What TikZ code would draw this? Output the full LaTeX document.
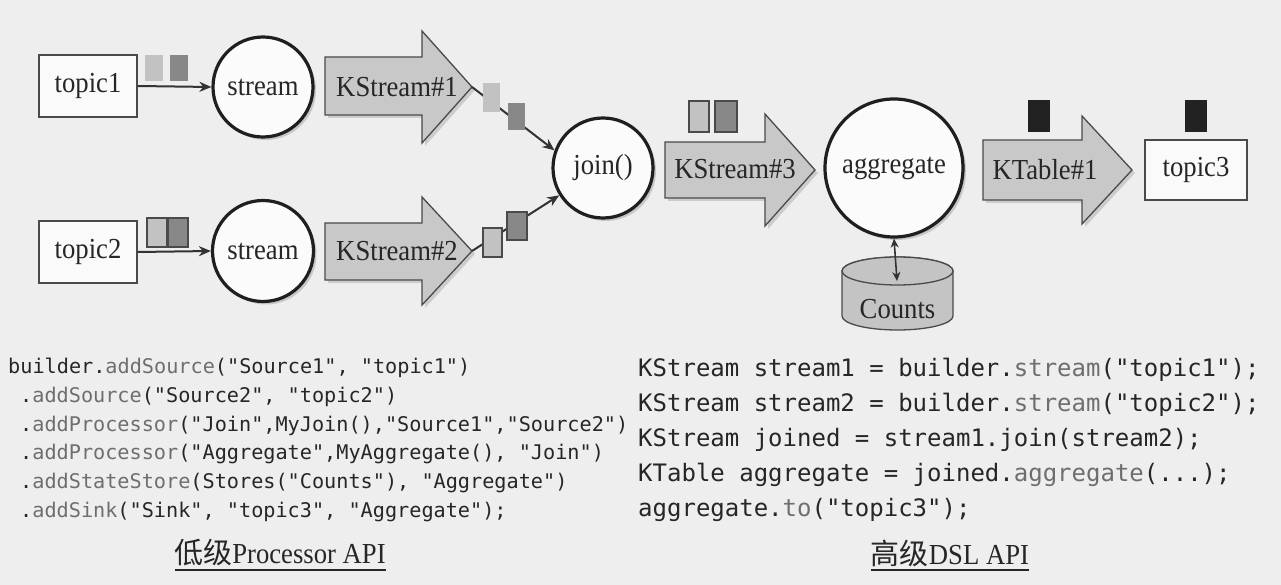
\documentclass[tikz,border=0pt]{standalone}
\usepackage{fontspec}
\setmainfont{Liberation Serif}[FakeStretch=0.92]
\newfontfamily\cjk{Noto Sans CJK SC}
\newfontfamily\codefont{DejaVu Sans Mono}
\usetikzlibrary{arrows.meta,shapes.geometric,shadows}
\definecolor{bg}{HTML}{EEEEEE}
\definecolor{txt}{HTML}{262626}
\definecolor{edge}{HTML}{4A4A4A}
\definecolor{arrowfill}{HTML}{C8C8C8}
\definecolor{cylfill}{HTML}{C4C4C4}
\definecolor{lightsq}{HTML}{C2C2C2}
\definecolor{darksq}{HTML}{888888}
\definecolor{blacksq}{HTML}{222222}
\definecolor{meth}{HTML}{6E6E6E}
\newcommand\mth[1]{\textcolor{meth}{#1}}
\begin{document}
\begin{tikzpicture}[x=1pt,y=-1pt,
  lbl/.style={text=txt,font=\fontsize{29}{33}\selectfont,inner sep=0pt},
  topicbox/.style={lbl,draw=edge,line width=1.4pt,fill=white!70!bg,minimum width=98pt,minimum height=62pt},
  proc/.style={lbl,circle,draw=black!88,line width=3.2pt,fill=white!75!bg,
    drop shadow={shadow xshift=3pt,shadow yshift=-3pt,opacity=0.35}},
  bigarrow/.style={draw=edge,line width=1.3pt,fill=arrowfill,line join=miter,
    drop shadow={shadow xshift=3pt,shadow yshift=-3pt,opacity=0.3}},
  flow/.style={draw=black!80,line width=2pt,-{Stealth[length=12pt,width=10pt]}},
  dflow/.style={draw=black!80,line width=1.6pt,{Stealth[length=9pt,width=8pt]}-{Stealth[length=9pt,width=8pt]}},
  sqsoft/.style={inner sep=0pt,draw=none},
  sqline/.style={inner sep=0pt,draw=edge,line width=1.2pt},
  cyl/.style={draw=edge,fill=cylfill,line width=1.3pt},
  codeL/.style={anchor=west,inner sep=0pt,text=txt,font=\codefont\fontsize{20.2}{24}\selectfont},
  codeR/.style={anchor=west,inner sep=0pt,text=txt,font=\codefont\fontsize{24}{28}\selectfont},
  caption/.style={inner sep=0pt,text=txt,font=\fontsize{29}{33}\selectfont}
]
\useasboundingbox[fill=bg] (0,0) rectangle (1281,585);

% ---------- sources ----------
\node[topicbox] (topic1) at (88,86) {topic1};
\node[topicbox] (topic2) at (88,252) {topic2};

% ---------- stream processors ----------
\node[proc,minimum size=100pt] (stream1) at (263,87) {stream};
\node[proc,minimum size=101pt] (stream2) at (263,251) {stream};

\draw[flow] (topic1.east) -- (stream1.west);
\draw[flow] (topic2.east) -- (stream2.west);

\node[sqsoft,fill=lightsq,minimum width=18pt,minimum height=26pt] (m1a) at (154,68) {};
\node[sqsoft,fill=darksq,minimum width=18pt,minimum height=26pt] (m1b) at (179,68) {};
\node[sqline,fill=lightsq,minimum width=20pt,minimum height=29pt] (m2a) at (157,232.5) {};
\node[sqline,fill=darksq,minimum width=20pt,minimum height=29pt] (m2b) at (178,232.5) {};

% ---------- KStream#1 / #2 ----------
\draw[bigarrow] (325,57) -- (422,57) -- (422,31) -- (472,87) -- (422,143) -- (422,115) -- (325,115) -- cycle;
\node[lbl] (ks1) at (397,87) {KStream\#1};
\coordinate (k1tip) at (472,87);

\draw[bigarrow] (325,223) -- (422,223) -- (422,197) -- (472,251) -- (422,305) -- (422,280) -- (325,280) -- cycle;
\node[lbl] (ks2) at (397,251) {KStream\#2};
\coordinate (k2tip) at (472,251);

% ---------- join ----------
\node[proc,minimum size=100pt] (join) at (603,168) {join()};
\draw[flow] (k1tip) -- (join.160);
\draw[flow] (k2tip) -- (join.212);

\node[sqsoft,fill=lightsq,minimum width=17pt,minimum height=29pt] (m3a) at (491.5,97.5) {};
\node[sqsoft,fill=darksq,minimum width=17pt,minimum height=27pt] (m3b) at (516.5,116.5) {};
\node[sqline,fill=lightsq,minimum width=19pt,minimum height=29pt] (m4a) at (492.5,242.5) {};
\node[sqline,fill=darksq,minimum width=20pt,minimum height=28pt] (m4b) at (517,226) {};

% ---------- KStream#3 ----------
\draw[bigarrow] (665,142) -- (765,142) -- (765,114) -- (815,170) -- (765,226) -- (765,198) -- (665,198) -- cycle;
\node[lbl] (ks3) at (735,169) {KStream\#3};
\node[sqline,fill=lightsq,minimum width=20pt,minimum height=31pt] (m5a) at (699,116.5) {};
\node[sqline,fill=darksq,minimum width=22pt,minimum height=31pt] (m5b) at (726,116.5) {};

% ---------- aggregate ----------
\node[proc,minimum size=138pt] (agg) at (894,168) {aggregate};

% ---------- Counts store (cylinder) ----------
\path[cyl] (842,271) -- (842,316)
  arc[start angle=180,end angle=360,x radius=55.5pt,y radius=14pt]
  -- (953,271)
  arc[start angle=0,end angle=180,x radius=55.5pt,y radius=14pt] -- cycle;
\path[cyl] (897.5,271) ellipse [x radius=55.5pt,y radius=14pt];
\node[lbl] (counts) at (897.5,309) {Counts};
\coordinate (cnttop) at (897,281);
\draw[dflow] (agg.south) -- (cnttop);

% ---------- KTable#1 ----------
\draw[bigarrow] (983,140) -- (1082,140) -- (1082,116) -- (1132,170) -- (1082,224) -- (1082,200) -- (983,200) -- cycle;
\node[lbl] (kt1) at (1045,170) {KTable\#1};
\node[inner sep=0pt,fill=blacksq,minimum width=22pt,minimum height=32pt] (m6) at (1039,116) {};

% ---------- topic3 ----------
\node[topicbox,minimum width=102pt,minimum height=60pt] (topic3) at (1196,170) {topic3};
\node[inner sep=0pt,fill=blacksq,minimum width=22pt,minimum height=32pt] (m7) at (1196,116) {};

% ---------- low level code ----------
\node[codeL] (c1) at (8,368) {builder.\mth{addSource}("Source1", "topic1")};
\node[codeL] (c2) at (20,397) {.\mth{addSource}("Source2", "topic2")};
\node[codeL] (c3) at (20,426) {.\mth{addProcessor}("Join",MyJoin(),"Source1","Source2")};
\node[codeL] (c4) at (20,454) {.\mth{addProcessor}("Aggregate",MyAggregate(), "Join")};
\node[codeL] (c5) at (20,483) {.\mth{addStateStore}(Stores("Counts"), "Aggregate")};
\node[codeL] (c6) at (20,512) {.\mth{addSink}("Sink", "topic3", "Aggregate");};

\node[caption] (cap1) at (280,553) {{\cjk 低级}Processor API};
\draw[line width=1.3pt,draw=txt] (175,570) -- (386,570);

% ---------- high level code ----------
\node[codeR] (d1) at (638,370) {KStream stream1 = builder.\mth{stream}("topic1");};
\node[codeR] (d2) at (638,405) {KStream stream2 = builder.\mth{stream}("topic2");};
\node[codeR] (d3) at (638,440) {KStream joined = stream1.join(stream2);};
\node[codeR] (d4) at (638,475) {KTable aggregate = joined.\mth{aggregate}(...);};
\node[codeR] (d5) at (638,510) {aggregate.\mth{to}("topic3");};

\node[caption] (cap2) at (950,553) {{\cjk 高级}DSL API};
\draw[line width=1.3pt,draw=txt] (871,570) -- (1029,570);
\end{tikzpicture}
\end{document}
